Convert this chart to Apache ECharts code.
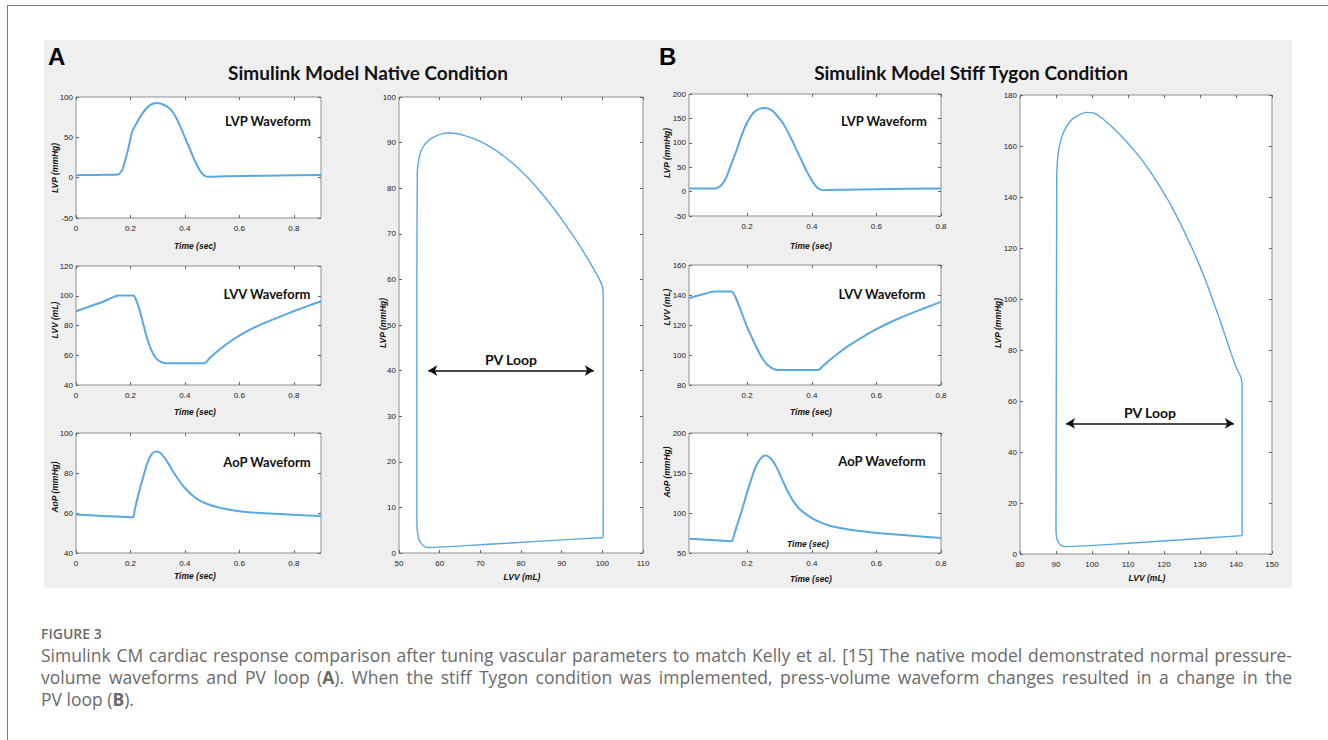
<!DOCTYPE html>
<html lang="en">
<head>
<meta charset="UTF-8">
<title>Figure 3</title>
<style>
  html, body {margin:0; padding:0; background:#fff}
  .page {position:relative; width:1328px; height:740px; overflow:hidden}
  .panel {position:absolute; left:44px; top:40px; width:1248px; height:548px; background:#efefef}
  .frame-top {position:absolute; left:7px; top:5px; right:0; height:1px; background:#7a7a7a}
  .frame-left {position:absolute; left:7px; top:5px; bottom:0; width:1px; background:#7a7a7a}
  #chart {position:absolute; left:0; top:0; width:1328px; height:600px}
  .caption {position:absolute; left:41px; width:1251px; font-family:'Open Sans', sans-serif; color:#6a6a6a}
  .fig {top:625px; font-size:14px; font-weight:600; line-height:18px; color:#6b6b6b}
  .ln {font-size:17.5px; line-height:22px; white-space:nowrap; text-align:justify; text-align-last:justify}
  .ln.last {text-align-last:left}
</style>
<script src="https://cdn.jsdelivr.net/npm/echarts@6/dist/echarts.min.js"></script>
</head>
<body>
<div class="page">
  <div class="frame-top"></div>
  <div class="frame-left"></div>
  <div class="panel"></div>
  <div id="chart"></div>
  <div class="caption fig">FIGURE 3</div>
  <div class="caption ln" style="top:644px">Simulink CM cardiac response comparison after tuning vascular parameters to match Kelly et al. [15] The native model demonstrated normal pressure-</div>
  <div class="caption ln" style="top:666px">volume waveforms and PV loop (<b>A</b>). When the stiff Tygon condition was implemented, press-volume waveform changes resulted in a change in the</div>
  <div class="caption ln last" style="top:688px">PV loop (<b>B</b>).</div>
</div>
<script>
// ---- data: [time (s), value] or [volume (mL), pressure (mmHg)]
const nativeLVP = [[0,3],[0.05,3.3],[0.1,3.6],[0.155,4],[0.165,7],[0.173,12],[0.181,22],[0.19,33],[0.198,45],[0.206,57],[0.215,63],[0.225,69],[0.235,75],[0.245,80],[0.255,84.5],[0.265,88],[0.275,90.5],[0.285,92],[0.295,92.5],[0.305,92.3],[0.315,91.3],[0.325,89.8],[0.335,88],[0.345,85.5],[0.355,81.5],[0.365,76],[0.375,69.5],[0.385,62],[0.395,54],[0.405,46],[0.415,38],[0.425,30],[0.435,22],[0.445,15],[0.455,9],[0.465,4.5],[0.475,2],[0.485,1.2],[0.55,1.8],[0.7,2.5],[0.9,3.2]];
const nativeLVV = [[0,89.6],[0.05,92.8],[0.1,96],[0.157,100.2],[0.21,100.2],[0.215,99.5],[0.22,97.5],[0.23,92.5],[0.24,86],[0.25,79],[0.26,72],[0.27,66.5],[0.28,62.3],[0.29,59],[0.3,57],[0.31,55.7],[0.32,55],[0.335,54.6],[0.472,54.6],[0.49,57.8],[0.51,61.2],[0.53,64.2],[0.56,68.4],[0.6,73.2],[0.65,78.2],[0.7,82.3],[0.75,86],[0.8,89.6],[0.85,93],[0.9,96.3]];
const nativeAoP = [[0,59.2],[0.1,58.5],[0.2,57.9],[0.21,57.8],[0.215,61],[0.225,67],[0.237,73.3],[0.25,79.5],[0.262,85],[0.275,88.8],[0.287,90.5],[0.299,90.8],[0.31,90],[0.32,88.5],[0.336,85.5],[0.35,82.3],[0.365,79],[0.38,76],[0.4,72.5],[0.42,69.8],[0.447,66.8],[0.48,64.6],[0.52,62.9],[0.56,61.8],[0.607,60.8],[0.66,60.1],[0.731,59.6],[0.8,59.1],[0.9,58.5]];
const nativePV = [[100.2,3.4],[100.2,30],[100.2,56],[100.2,57.5],[100,58.4],[99.6,59.4],[99,60.5],[98,62.1],[96,65.1],[94,68],[92,70.6],[90,73.2],[88,75.6],[86,77.9],[84,80],[82,82],[80,83.75],[78,85.4],[76,86.9],[74,88.2],[72,89.3],[70,90.25],[68,91],[66,91.6],[64,92],[62.2,92.1],[60.5,91.9],[59,91.4],[57.8,90.8],[56.8,90.1],[56,89.2],[55.4,88.1],[55,86.8],[54.7,85.2],[54.5,83.5],[54.4,60],[54.4,10],[54.4,7],[54.5,5],[54.8,3.4],[55.3,2.3],[56,1.6],[56.9,1.2],[70,1.8],[85,2.6],[100.2,3.4]];

const stiffLVP = [[0.02,6.5],[0.1,6.5],[0.105,7],[0.112,9],[0.12,13],[0.128,20],[0.136,30],[0.144,44],[0.152,58],[0.16,72],[0.168,86],[0.178,106],[0.188,124],[0.198,139],[0.209,152],[0.219,161],[0.229,166.5],[0.24,170],[0.255,171.5],[0.268,169.5],[0.28,164.5],[0.29,157.5],[0.3,149.5],[0.311,140],[0.322,127],[0.333,113],[0.343,99.5],[0.353,85],[0.364,70],[0.374,56],[0.384,42],[0.395,29],[0.405,18],[0.415,9.5],[0.425,4.5],[0.435,3],[0.5,3.8],[0.6,5],[0.8,6.5]];
const stiffLVV = [[0.02,137.8],[0.06,140.3],[0.1,142.3],[0.152,142.3],[0.158,141],[0.165,138],[0.178,131],[0.19,124],[0.2,118.5],[0.209,114.4],[0.22,109],[0.23,104.5],[0.24,100.3],[0.25,96.8],[0.26,94],[0.27,92.2],[0.28,90.9],[0.29,90.2],[0.3,90],[0.42,90],[0.435,92.8],[0.456,96.7],[0.48,100.8],[0.518,106.7],[0.56,112.3],[0.6,117.2],[0.65,122.5],[0.705,127.6],[0.75,131.3],[0.8,135.4]];
const stiffAoP = [[0.02,67.9],[0.1,66],[0.152,64.8],[0.16,73],[0.168,84],[0.178,96],[0.19,112],[0.2,126],[0.209,137.5],[0.219,150],[0.229,160],[0.24,167],[0.25,171],[0.258,171.8],[0.268,170],[0.28,164.6],[0.29,158],[0.3,149.5],[0.311,139.6],[0.322,130],[0.333,121.5],[0.343,114.6],[0.36,106],[0.384,97.9],[0.41,91.5],[0.446,85.4],[0.48,81.8],[0.518,79.2],[0.57,76.5],[0.621,74.4],[0.7,71.8],[0.8,68.8]];
const stiffPV = [[141.7,7.2],[141.7,40],[141.7,66],[141.5,68.5],[141,70.5],[140.1,73],[139,77.2],[137.4,83.9],[135.6,91.5],[133.7,99],[131.9,106],[130,112.7],[128.2,118.7],[126.3,124.4],[124.5,129.8],[122.6,134.9],[120.8,139.6],[118.9,144],[116.6,149.1],[114.2,153.9],[111.9,158],[109.6,161.7],[107.3,165.1],[105,168.2],[102.7,171],[100.4,173],[98.5,173.2],[96.7,172.4],[95.2,171.2],[93.9,169.6],[92.9,167.6],[92,165],[91.2,161.5],[90.6,157.1],[90.3,152],[90.2,146.7],[90.1,80],[90,10],[90.1,7],[90.6,4.6],[91.4,3.5],[92.5,2.9],[110,4.2],[125,5.6],[141.7,7.2]];

// arrow ends of the "PV Loop" annotation (volume, pressure)
const arrowA = [[57.2,40],[97.9,40]];
const arrowB = [[92.8,51.2],[139.4,51.2]];

// tick labels
const timeTicksA = [0,0.2,0.4,0.6,0.8];
const timeTicksB = [0.2,0.4,0.6,0.8];
const lvpTicksA = [-50,0,50,100];
const lvvTicksA = [40,60,80,100,120];
const aopTicksA = [40,60,80,100];
const pvVolTicksA = [50,60,70,80,90,100,110];
const pvPresTicksA = [0,10,20,30,40,50,60,70,80,90,100];
const lvpTicksB = [-50,0,50,100,150,200];
const lvvTicksB = [80,100,120,140,160];
const aopTicksB = [50,100,150,200];
const pvVolTicksB = [80,90,100,110,120,130,140,150];
const pvPresTicksB = [0,20,40,60,80,100,120,140,160,180];

const blue = '#5aa8e0';
const tickFont = "'Liberation Sans Narrow', 'Liberation Sans', sans-serif";

const panels = [
  {box:[76,97,245,121],  x:[0,0.9,timeTicksA],  y:[-50,100,lvpTicksA], data:nativeLVP, w:2},
  {box:[76,266,245,119], x:[0,0.9,timeTicksA],  y:[40,120,lvvTicksA],  data:nativeLVV, w:2},
  {box:[76,433,245,120], x:[0,0.9,timeTicksA],  y:[40,100,aopTicksA],  data:nativeAoP, w:2},
  {box:[399,97,244,456], x:[50,110,pvVolTicksA], y:[0,100,pvPresTicksA], data:nativePV, w:1.4, arrow:arrowA},
  {box:[689,94,252,122], x:[0.02,0.8,timeTicksB], y:[-50,200,lvpTicksB], data:stiffLVP, w:2},
  {box:[689,265,252,120],x:[0.02,0.8,timeTicksB], y:[80,160,lvvTicksB],  data:stiffLVV, w:2},
  {box:[689,433,252,120],x:[0.02,0.8,timeTicksB], y:[50,200,aopTicksB],  data:stiffAoP, w:2},
  {box:[1020,95,252,459],x:[80,150,pvVolTicksB], y:[0,180,pvPresTicksB], data:stiffPV, w:1.4, arrow:arrowB}
];

function makeAxis(gridIndex, position, range, withLabels) {
  const isX = position == 'bottom' || position == 'top';
  return {
    type: 'value', gridIndex: gridIndex, position: position,
    min: range[0], max: range[1],
    axisLine: {show: false, onZero: false},
    splitLine: {show: false},
    axisTick: {show: true, inside: true, length: 3, customValues: range[2], lineStyle: {color: '#666'}},
    axisLabel: {show: withLabels, customValues: range[2], fontSize: 8, color: '#222',
                fontFamily: tickFont, margin: isX ? 6 : 3}
  };
}

let grids = [], xAxes = [], yAxes = [], series = [];
panels.forEach((p, i) => {
  grids.push({left: p.box[0], top: p.box[1], width: p.box[2], height: p.box[3],
              show: true, backgroundColor: '#fff', borderColor: '#8f8f8f', borderWidth: 1,
              outerBoundsMode: 'none'});
  const xi = xAxes.length, yi = yAxes.length;
  xAxes.push(makeAxis(i, 'bottom', p.x, true), makeAxis(i, 'top', p.x, false));
  yAxes.push(makeAxis(i, 'left', p.y, true), makeAxis(i, 'right', p.y, false));
  let s = {
    type: 'line', xAxisIndex: xi, yAxisIndex: yi, data: p.data,
    showSymbol: false, smooth: 0.2, silent: true,
    lineStyle: {color: blue, width: p.w}
  };
  if (p.arrow) {
    s.markLine = {
      silent: true, symbol: ['arrow', 'arrow'], symbolSize: [8, 9],
      lineStyle: {color: '#111', width: 1.6, type: 'solid'},
      label: {show: true, position: 'middle', formatter: 'PV Loop', distance: 4,
              fontFamily: 'Lato', fontWeight: 'bold', fontSize: 14, color: '#111'},
      data: [[{coord: p.arrow[0]}, {coord: p.arrow[1]}]]
    };
  }
  series.push(s);
});

function txt(x, y, text, font, opts) {
  opts = opts || {};
  return {type: 'text', x: x, y: y, rotation: opts.rot || 0, silent: true,
          style: {text: text, font: font, fill: opts.color || '#111',
                  align: opts.align || 'center', verticalAlign: 'middle'}};
}
const boldTitle = "bold 19px Lato";
const waveFont = "bold 13px Lato";
const nameFont = "italic bold 8.5px 'Liberation Sans'";
const R = Math.PI / 2;

const texts = [
  txt(48, 56, 'A', "bold 24px 'Liberation Sans'", {align: 'left', color: '#000'}),
  txt(659, 56, 'B', "bold 24px 'Liberation Sans'", {align: 'left', color: '#000'}),
  txt(368, 72, 'Simulink Model Native Condition', boldTitle),
  txt(971, 72, 'Simulink Model Stiff Tygon Condition', boldTitle),
  txt(268, 121, 'LVP Waveform', waveFont),
  txt(267, 294, 'LVV Waveform', waveFont),
  txt(267, 462, 'AoP Waveform', waveFont),
  txt(884, 121, 'LVP Waveform', waveFont),
  txt(882, 294, 'LVV Waveform', waveFont),
  txt(882, 461, 'AoP Waveform', waveFont),
  txt(195, 246, 'Time (sec)', nameFont),
  txt(195, 412, 'Time (sec)', nameFont),
  txt(195, 576, 'Time (sec)', nameFont),
  txt(811, 246, 'Time (sec)', nameFont),
  txt(811, 412, 'Time (sec)', nameFont),
  txt(811, 579, 'Time (sec)', nameFont),
  txt(808, 544, 'Time (sec)', nameFont),
  txt(522, 577, 'LVV (mL)', nameFont),
  txt(1147, 578, 'LVV (mL)', nameFont),
  txt(55, 168, 'LVP (mmHg)', nameFont, {rot: R}),
  txt(55, 320, 'LVV (mL)', nameFont, {rot: R}),
  txt(55, 487, 'AoP (mmHg)', nameFont, {rot: R}),
  txt(383, 323, 'LVP (mmHg)', nameFont, {rot: R}),
  txt(667, 153, 'LVP (mmHg)', nameFont, {rot: R}),
  txt(667, 307, 'LVV (mL)', nameFont, {rot: R}),
  txt(667, 472, 'AoP (mmHg)', nameFont, {rot: R}),
  txt(998, 323, 'LVP (mmHg)', nameFont, {rot: R})
];

const chart = echarts.init(document.getElementById('chart'), null, {renderer: 'svg'});
chart.setOption({
  animation: false,
  grid: grids,
  xAxis: xAxes,
  yAxis: yAxes,
  series: series,
  graphic: texts
});
</script>
</body>
</html>
